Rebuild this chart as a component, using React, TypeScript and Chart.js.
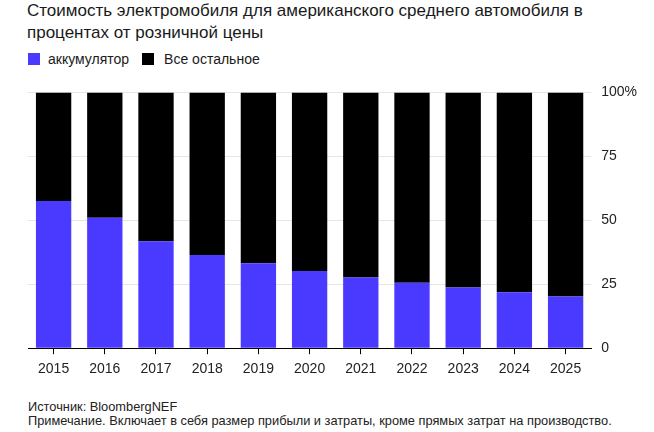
import React, { useEffect, useRef } from "react";
import { Chart, registerables } from "chart.js";

Chart.register(...registerables);

const years = ["2015", "2016", "2017", "2018", "2019", "2020", "2021", "2022", "2023", "2024", "2025"];
const battery = [57.5, 51.0, 41.8, 36.4, 33.2, 30.2, 27.6, 25.6, 23.7, 21.9, 20.2];
const everythingElse = [42.5, 49.0, 58.2, 63.6, 66.8, 69.8, 72.4, 74.4, 76.3, 78.1, 79.8];
const yTicks = [0, 25, 50, 75, 100];

const titleLines = ["Стоимость электромобиля для американского среднего автомобиля в", "процентах от розничной цены"];
const seriesNames = ["аккумулятор", "Все остальное"];
const seriesColors = ["#4a3aff", "#000000"];
const sourceText = "Источник: BloombergNEF";
const noteText = "Примечание. Включает в себя размер прибыли и затраты, кроме прямых затрат на производство.";

const REG = '"Liberation Sans", Arial, sans-serif';
const CANVAS_TOP = 74;
const CANVAS_H = 317;

export default function App() {
  const ref = useRef<HTMLCanvasElement | null>(null);

  useEffect(() => {
    document.body.style.margin = "0";
    if (!ref.current) return;
    const chart = new Chart(ref.current, {
      type: "bar",
      data: {
        labels: years,
        datasets: [
          {
            label: seriesNames[0],
            data: battery,
            backgroundColor: seriesColors[0],
            borderWidth: 0,
            categoryPercentage: 0.69,
            barPercentage: 1,
          },
          {
            label: seriesNames[1],
            data: everythingElse,
            backgroundColor: seriesColors[1],
            borderWidth: 0,
            categoryPercentage: 0.69,
            barPercentage: 1,
          },
        ],
      },
      options: {
        animation: false,
        responsive: false,
        maintainAspectRatio: false,
        layout: { padding: { left: 28, right: 7, top: 6, bottom: 6 } },
        plugins: {
          legend: { display: false },
          tooltip: { enabled: false },
          title: { display: false },
        },
        scales: {
          x: {
            stacked: true,
            offset: true,
            border: { display: true, color: "#000", width: 1 },
            grid: {
              offset: false,
              drawOnChartArea: false,
              drawTicks: true,
              tickLength: 6,
              color: "#000",
            },
            ticks: {
              color: "#222",
              font: { family: REG, size: 14 },
              padding: 7,
            },
          },
          y: {
            stacked: true,
            position: "right",
            min: 0,
            max: 100,
            border: { display: false },
            grid: { color: "#e6e6e6", drawTicks: false },
            afterBuildTicks: (axis: any) => {
              axis.ticks = yTicks.map((v) => ({ value: v }));
            },
            ticks: {
              color: "#222",
              font: { family: REG, size: 14 },
              padding: 10,
              callback: (v: any) => (Number(v) === 100 ? "100%" : String(v)),
            },
          },
        },
      },
    });
    return () => chart.destroy();
  }, []);

  const sq = (c: string, mr: number): React.CSSProperties => ({
    display: "inline-block",
    width: 12,
    height: 12,
    background: c,
    marginRight: mr,
    verticalAlign: "-1px",
  });

  return (
    <div style={{ position: "relative", width: 654, height: 432, background: "#fff", overflow: "hidden" }}>
      <div
        style={{
          position: "absolute",
          left: 27,
          top: 0,
          fontFamily: REG,
          fontSize: 17,
          lineHeight: "22px",
          color: "#1a1a1a",
          whiteSpace: "nowrap",
        }}
      >
        {titleLines.map((l, i) => (
          <div key={i}>{l}</div>
        ))}
      </div>
      <div
        style={{
          position: "absolute",
          left: 28,
          top: 50,
          fontFamily: REG,
          fontSize: 14,
          lineHeight: "18px",
          color: "#1a1a1a",
          whiteSpace: "nowrap",
        }}
      >
        <span style={sq(seriesColors[0], 8)} />
        <span style={{ marginRight: 13 }}>{seriesNames[0]}</span>
        <span style={sq(seriesColors[1], 10)} />
        <span>{seriesNames[1]}</span>
      </div>
      <canvas
        ref={ref}
        width={654}
        height={CANVAS_H}
        style={{ position: "absolute", left: 0, top: CANVAS_TOP, width: 654, height: CANVAS_H }}
      />
      <div
        style={{
          position: "absolute",
          left: 28,
          top: 400,
          fontFamily: REG,
          fontSize: 12.8,
          lineHeight: "14px",
          color: "#222",
          whiteSpace: "nowrap",
        }}
      >
        <div>{sourceText}</div>
        <div>{noteText}</div>
      </div>
    </div>
  );
}
